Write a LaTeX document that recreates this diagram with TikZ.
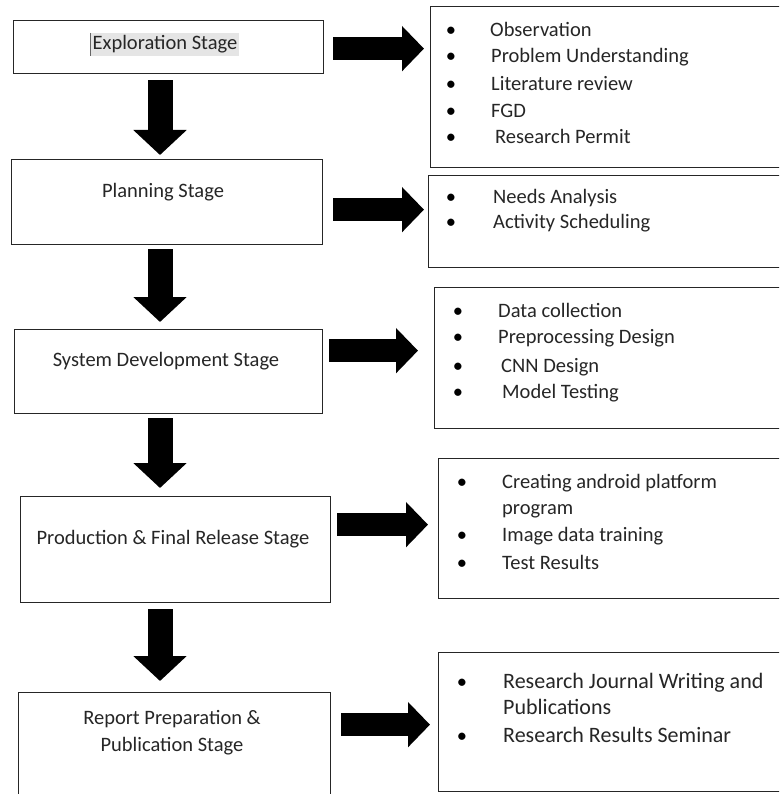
\documentclass[tikz,border=0pt]{standalone}
\usepackage{fontspec}
\setmainfont{Carlito}
\usetikzlibrary{arrows.meta}

\begin{document}
\begin{tikzpicture}[x=1pt, y=-1pt,
    stagebox/.style={draw=black!85, line width=1.3pt, anchor=north west, inner sep=0pt},
    stagetext/.style={font=\fontsize{20.5}{25}\selectfont, text=black!85, anchor=base, inner sep=0pt},
    itemtext/.style={font=\fontsize{20.5}{25}\selectfont, text=black!85, anchor=base west, inner sep=0pt},
    bigitem/.style={itemtext, font=\fontsize{22}{27}\selectfont},
    bulletdot/.style={font=\fontsize{20.5}{25}\selectfont, anchor=base, inner sep=0pt},
    downarrow/.style={line width=25pt, -{Triangle[length=25pt, width=52pt]}},
    sidearrow/.style={line width=23pt, -{Triangle[length=22pt, width=44pt]}}]
    \useasboundingbox (0,0) rectangle (779,794);
    \clip (0,0) rectangle (779,794);
    \fill[white] (0,0) rectangle (779,794);

    % stages
    \node[stagebox, minimum width=310pt, minimum height=53pt] (explore) at (13,20) {};
    \node[stagebox, minimum width=311pt, minimum height=85pt] (plan) at (11,159) {};
    \node[stagebox, minimum width=308pt, minimum height=84pt] (develop) at (14,329) {};
    \node[stagebox, minimum width=310pt, minimum height=106pt] (release) at (20,496) {};
    \node[stagebox, minimum width=312pt, minimum height=120pt] (report) at (18,692) {};

    \node[stagetext, fill=black!10, text height=15pt, text depth=4pt, inner xsep=1.5pt, inner ysep=2pt] (explbl) at (165,50) {Exploration Stage};
    \draw[black!60, line width=1pt] (explbl.north west) -- (explbl.south west);
    \node[stagetext] (planlbl) at (163,198) {Planning Stage};
    \node[stagetext] (devlbl) at (166,366) {System Development Stage};
    \node[stagetext] (rellbl) at (173,544) {Production \& Final Release Stage};
    \node[stagetext] (replbl1) at (172,724) {Report Preparation \&};
    \node[stagetext] (replbl2) at (172,751) {Publication Stage};

    % activity boxes
    \node[stagebox, minimum width=360pt, minimum height=161pt] (acts1) at (430,6) {};
    \node[stagebox, minimum width=362pt, minimum height=92pt] (acts2) at (428,175) {};
    \node[stagebox, minimum width=356pt, minimum height=141pt] (acts3) at (434,287) {};
    \node[stagebox, minimum width=352pt, minimum height=140pt] (acts4) at (438,458) {};
    \node[stagebox, minimum width=352pt, minimum height=139pt] (acts5) at (438,652) {};

    % exploration activities
    \node[bulletdot] (b11) at (451,37) {\textbullet};
    \node[itemtext] (i11) at (490,37) {Observation};
    \node[bulletdot] (b12) at (451,63) {\textbullet};
    \node[itemtext] (i12) at (491,63) {Problem Understanding};
    \node[bulletdot] (b13) at (451,91) {\textbullet};
    \node[itemtext] (i13) at (491,91) {Literature review};
    \node[bulletdot] (b14) at (451,118) {\textbullet};
    \node[itemtext] (i14) at (491,118) {FGD};
    \node[bulletdot] (b15) at (451,144) {\textbullet};
    \node[itemtext] (i15) at (495,144) {Research Permit};

    % planning activities
    \node[bulletdot] (b21) at (451,204) {\textbullet};
    \node[itemtext] (i21) at (493,204) {Needs Analysis};
    \node[bulletdot] (b22) at (451,229) {\textbullet};
    \node[itemtext] (i22) at (493,229) {Activity Scheduling};

    % development activities
    \node[bulletdot] (b31) at (458,317) {\textbullet};
    \node[itemtext] (i31) at (498,317) {Data collection};
    \node[bulletdot] (b32) at (458,343) {\textbullet};
    \node[itemtext] (i32) at (498,343) {Preprocessing Design};
    \node[bulletdot] (b33) at (458,372) {\textbullet};
    \node[itemtext] (i33) at (501,372) {CNN Design};
    \node[bulletdot] (b34) at (458,398) {\textbullet};
    \node[itemtext] (i34) at (502,398) {Model Testing};

    % release activities
    \node[bulletdot] (b41) at (462,488) {\textbullet};
    \node[itemtext] (i41) at (502,488) {Creating android platform};
    \node[itemtext] (i41b) at (502,514) {program};
    \node[bulletdot] (b42) at (462,541) {\textbullet};
    \node[itemtext] (i42) at (502,541) {Image data training};
    \node[bulletdot] (b43) at (462,569) {\textbullet};
    \node[itemtext] (i43) at (502,569) {Test Results};

    % publication activities
    \node[bulletdot] (b51) at (462,688) {\textbullet};
    \node[bigitem] (i51) at (503,688) {Research Journal Writing and};
    \node[bigitem] (i51b) at (503,714) {Publications};
    \node[bulletdot] (b52) at (462,742) {\textbullet};
    \node[bigitem] (i52) at (503,742) {Research Results Seminar};

    % flow between stages
    \coordinate (spine) at (160,0);
    \draw[downarrow, shorten <=6pt, shorten >=4pt] (explore.south -| spine) -- (plan.north -| spine);
    \draw[downarrow, shorten <=4pt, shorten >=7pt] (plan.south -| spine) -- (develop.north -| spine);
    \draw[downarrow, shorten <=4pt, shorten >=8pt] (develop.south -| spine) -- (release.north -| spine);
    \draw[downarrow, shorten <=6pt, shorten >=11pt] (release.south -| spine) -- (report.north -| spine);

    % stage to activities
    \draw[sidearrow, shorten <=9pt, shorten >=6pt] ([yshift=-1.5pt]explore.east) -- ([yshift=-1.5pt]explore.east -| acts1.west);
    \draw[sidearrow, shorten <=10pt, shorten >=4pt] ([yshift=-7.5pt]plan.east) -- ([yshift=-7.5pt]plan.east -| acts2.west);
    \draw[sidearrow, shorten <=6pt, shorten >=16pt] ([yshift=21pt]develop.east) -- ([yshift=21pt]develop.east -| acts3.west);
    \draw[sidearrow, shorten <=6pt, shorten >=10pt] ([yshift=25pt]release.east) -- ([yshift=25pt]release.east -| acts4.west);
    \draw[sidearrow, shorten <=10pt, shorten >=8pt] ([yshift=28pt]report.east) -- ([yshift=28pt]report.east -| acts5.west);
\end{tikzpicture}
\end{document}
